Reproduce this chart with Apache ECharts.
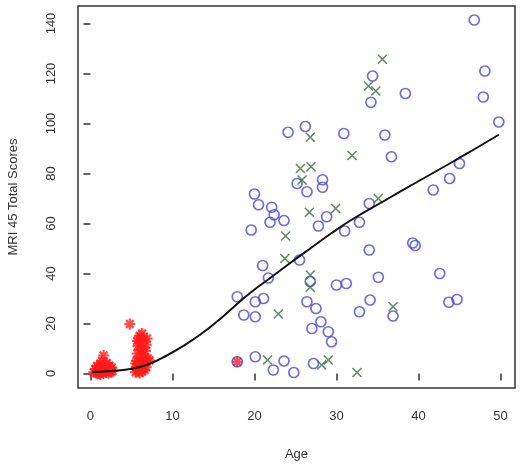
<!DOCTYPE html>
<html>
<head>
<meta charset="utf-8">
<script src="https://cdn.jsdelivr.net/npm/echarts@6/dist/echarts.min.js"></script>
<style>
html,body{margin:0;padding:0;background:#fff;}
#chart{width:520px;height:464px;}
</style>
</head>
<body>
<div id="chart"></div>
<script>
// Red asterisks (young group)
const childPoints = [
  [0.4,0.5],[0.6,1.8],[0.7,0.2],[0.8,3.0],[0.9,1.2],[1.0,0],[1.1,2.2],[1.2,4.0],[1.3,0.8],[1.4,1.6],
  [1.5,0.3],[1.5,2.8],[1.6,7.2],[1.7,1.0],[1.8,3.5],[1.9,0.4],[2.0,2.0],[2.1,1.3],[2.2,0.1],[2.3,3.1],
  [2.4,1.7],[2.5,0.6],[2.6,2.4],[2.7,1.0],[1.2,-0.5],[0.9,2.6],[2.0,4.2],[1.4,5.0],
  [5.5,0.5],[5.6,2.5],[5.6,5.0],[5.7,8.0],[5.8,1.0],[5.8,11.0],[5.9,3.5],[5.9,14.0],[6.0,0.2],[6.0,6.5],
  [6.1,9.5],[6.1,2.0],[6.2,12.5],[6.2,4.5],[6.3,16.0],[6.3,0.8],[6.4,7.5],[6.4,10.5],[6.5,3.0],[6.5,13.5],
  [6.6,5.5],[6.6,1.5],[6.7,9.0],[6.8,11.5],[6.8,2.5],[7.0,6.0],[5.7,13.0],[6.0,15.0],[6.9,14.0],[5.5,4.0],
  [7.2,5.2],[4.8,19.8],[17.9,4.7]
];
// Blue open circles
const circlePoints = [
  [46.8,141.4],[48.1,121],[47.9,110.6],[49.8,100.6],[45.0,84],[43.8,78],[41.8,73.4],
  [39.3,52.2],[39.6,51.2],[42.6,40],[43.7,28.5],[44.7,29.6],
  [34.4,119],[34.2,108.5],[38.4,112],[30.9,96],[35.9,95.4],[36.7,86.7],
  [24.1,96.5],[26.2,98.8],[25.2,76],[26.4,72.7],[28.3,77.5],[28.3,74.5],
  [20.0,71.8],[20.5,67.5],[22.1,66.5],[22.4,63.5],[21.9,60.5],[23.6,61.2],[19.6,57.4],
  [27.8,59],[28.8,62.7],[31.0,57],[32.8,60.5],[34.0,68],
  [34.0,49.4],[25.5,45.4],[21.0,43.2],[21.7,38.2],[26.8,36.8],
  [30.0,35.4],[31.2,36],[35.1,38.5],[34.1,29.4],[32.8,24.7],[36.9,23],
  [17.9,30.7],[20.1,28.7],[21.1,30],[18.7,23.4],[20.1,22.7],
  [26.4,28.7],[27.5,26],[28.1,20.7],[27.0,18],[29.0,16.7],[29.4,12.7],
  [20.1,6.7],[22.3,1.4],[23.6,5],[24.8,0.4],[27.2,4],[17.9,4.7]
];
// Green crosses
const crossPoints = [
  [35.6,125.7],[33.9,115],[34.8,113],[26.8,94.5],[25.6,82],[26.9,82.7],[25.8,77.4],[31.9,87.2],
  [26.7,64.5],[29.9,66],[35.1,70],[23.8,55],[23.7,46],[26.8,39.4],[26.8,34.5],[22.9,23.8],
  [36.9,26.7],[21.6,5.4],[28.2,3.4],[29.0,5.4],[32.5,0.4]
];
// Smoothed trend curve
const trendCurve = [
  [0.2,0.6],[2.4,1],[5.2,2],[7.3,4],[9.3,7.2],[11.3,11],[13.4,15.6],[15.4,20.7],[17.4,26.4],
  [19.5,32.3],[22,38.4],[24.2,43.8],[27,50.5],[29.5,56.4],[31.8,61.4],[35.9,69.2],[39.5,76],
  [43.6,83.6],[46.5,89.1],[49.8,95.5]
];
const xTicks = [0,10,20,30,40,50];
const yTicks = [0,20,40,60,80,100,120,140];

const FONT = 'Liberation Sans';
const chart = echarts.init(document.getElementById('chart'), null, {renderer:'canvas'});
chart.setOption({
  backgroundColor:'#ffffff',
  animation:false,
  grid:{left:78, right:5, top:6, bottom:76, containLabel:false, outerBoundsMode:'none',
        show:true, borderColor:'#333', borderWidth:1.5, backgroundColor:'rgba(0,0,0,0)'},
  xAxis:{
    type:'value', min:-1.52, max:51.77,
    name:'Age', nameLocation:'middle', nameGap:60,
    nameTextStyle:{fontFamily:FONT, fontSize:13, color:'#333'},
    axisLine:{show:false},
    splitLine:{show:false},
    axisTick:{show:true, inside:false, length:7, customValues:xTicks, lineStyle:{color:'#333', width:1.5}},
    axisLabel:{customValues:xTicks, margin:22, fontFamily:FONT, fontSize:13, color:'#333'}
  },
  yAxis:{
    type:'value', min:-5.8, max:147,
    name:'MRI 45 Total Scores', nameLocation:'middle', nameGap:58,
    nameTextStyle:{fontFamily:FONT, fontSize:13, color:'#333'},
    axisLine:{show:false},
    splitLine:{show:false},
    axisTick:{show:true, inside:false, length:7, customValues:yTicks, lineStyle:{color:'#333', width:1.5}},
    axisLabel:{customValues:yTicks, rotate:90, margin:20, fontFamily:FONT, fontSize:13, color:'#333'}
  },
  series:[
    {
      type:'scatter', data:childPoints, symbol:'path://M0,-1L0,1M-1,0L1,0M-0.7,-0.7L0.7,0.7M-0.7,0.7L0.7,-0.7',
      symbolSize:11, itemStyle:{color:'rgba(0,0,0,0)', borderColor:'#ff1a1a', borderWidth:2.2}, z:2
    },
    {
      type:'scatter', data:circlePoints, symbol:'circle', symbolSize:10,
      itemStyle:{color:'rgba(0,0,0,0)', borderColor:'#4a4ad6', borderWidth:1.7}, z:3
    },
    {
      type:'scatter', data:crossPoints, symbol:'path://M0,0L1,1M0,1L1,0', symbolSize:9,
      itemStyle:{color:'rgba(0,0,0,0)', borderColor:'#3d6b3d', borderWidth:1.6}, z:4
    },
    {
      type:'line', data:trendCurve, smooth:true, showSymbol:false, symbol:'none',
      lineStyle:{color:'#111', width:2}, z:5
    }
  ]
});
</script>
</body>
</html>
